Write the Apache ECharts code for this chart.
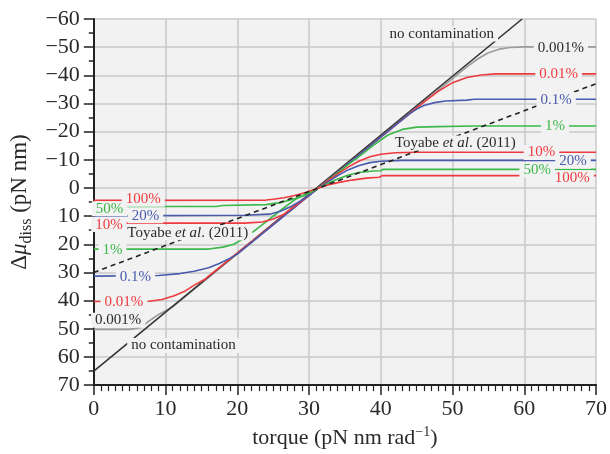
<!DOCTYPE html>
<html>
<head>
<meta charset="utf-8">
<script src="https://cdn.jsdelivr.net/npm/echarts@6/dist/echarts.min.js"></script>
<style>
  html, body { margin: 0; padding: 0; background: #fff; }
  #chart { width: 610px; height: 454px; }
</style>
</head>
<body>
<div id="chart"></div>
<script>
// curves as [torque, Δμ_diss]
const noContamination = [[0, 65], [59.7, -60]];
const toyabe2011 = [[0, 30], [70, -37]];

const pct100 = [[0, 4.4], [24, 4.3], [25, 4.0], [26.5, 3.5], [28, 2.7], [29.5, 1.6], [31.3, 0], [32.5, -1.0], [34, -1.9], [36, -2.8], [38, -3.5], [39.8, -3.8], [40.2, -4.4], [70, -4.4]];
const pct50 = [[0, 6.6], [17, 6.6], [18, 6.2], [24, 5.9], [26, 5.2], [27.5, 4.2], [29, 3.0], [30.3, 1.5], [31.3, 0], [32.5, -1.4], [34, -3.2], [35.5, -4.6], [37, -5.5], [39, -6.0], [40, -6.1], [40.3, -6.6], [70, -6.6]];
const pct20 = [[0, 9.9], [21, 9.7], [24.5, 9.3], [26, 8.3], [27.5, 6.6], [29, 4.3], [30.3, 2.1], [31.3, 0], [32.5, -1.9], [34, -4.4], [35.5, -6.5], [37, -8.0], [38.5, -9.0], [40, -9.5], [43, -9.8], [70, -9.8]];
const pct10 = [[0, 12.5], [21, 12.5], [23.5, 12.1], [25, 11.0], [26.5, 9.3], [28, 6.4], [29.5, 3.6], [31.3, 0], [32.5, -2.3], [34, -5.0], [35.5, -7.5], [37, -9.6], [38.5, -11.1], [40, -12.0], [42, -12.5], [45, -12.7], [70, -12.7]];
const pct1 = [[0, 21.7], [16, 21.7], [18, 21.0], [19.5, 20.0], [21, 17.8], [22.5, 15.0], [24, 12.0], [26, 8.0], [28, 4.2], [29.5, 2.2], [31.3, 0], [33, -3.4], [35, -7.4], [37, -11.2], [39, -15.2], [41, -18.8], [43, -20.8], [45, -21.6], [48, -21.8], [53, -22.0], [70, -22.0]];
const pct01 = [[0, 31.3], [9, 31.1], [12, 30.4], [14, 29.6], [16, 28.3], [17.5, 26.8], [19, 24.9], [20, 23.5], [31.3, 0], [43, -24.3], [44, -26.3], [45, -28.0], [46, -29.3], [47.5, -30.3], [49, -30.9], [52, -31.2], [53, -31.5], [70, -31.5]];
const pct001 = [[0, 40.3], [7.7, 40.2], [9.5, 39.6], [11.2, 38.3], [12.6, 36.8], [14, 34.5], [15.5, 32.4], [31.3, 0], [46, -30.5], [48, -34.3], [50, -37.4], [52, -39.2], [54, -40.1], [56, -40.5], [70, -40.5]];
const pct0001 = [[0, 50.2], [5, 50.2], [6.5, 49.5], [7.5, 47.6], [9, 45.0], [11, 42.2], [18, 27.6], [44, -26.4], [50, -38.8], [52, -43.0], [53.5, -45.8], [55, -48.0], [56.5, -49.3], [58, -49.9], [60, -50.1], [70, -50.1]];

// in-plot annotations: [curve, text, torque, Δμ]
const annotations = [
  ['pct100', '100%', 6.9, 4.0],
  ['pct50', '50%', 2.2, 7.4],
  ['pct20', '20%', 7.2, 9.9],
  ['pct10', '10%', 2.1, 13.0],
  ['pct1', '1%', 2.6, 21.9],
  ['pct01', '0.1%', 5.8, 31.5],
  ['pct001', '0.01%', 4.2, 40.5],
  ['pct0001', '0.001%', 3.4, 47.0],
  ['toyabe', 'Toyabe et al. (2011)', 13.1, 15.9],
  ['none', 'no contamination', 12.5, 55.9],
  ['pct0001', '0.001%', 65.1, -49.8],
  ['pct001', '0.01%', 64.8, -40.3],
  ['pct01', '0.1%', 64.45, -31.3],
  ['pct1', '1%', 64.3, -22.0],
  ['pct10', '10%', 62.4, -12.6],
  ['pct20', '20%', 66.8, -9.5],
  ['pct50', '50%', 61.8, -6.4],
  ['pct100', '100%', 66.7, -3.6],
  ['toyabe', 'Toyabe et al. (2011)', 50.4, -16.0],
  ['none', 'no contamination', 48.5, -54.7]
];

const RED = '#ee3a3e', GREEN = '#3cb84a', BLUE = '#4a5aad', GRAY = '#9c9c9c', INK = '#2a2a2a';
const FONT = 'Liberation Serif';
const textColor = { pct100: RED, pct50: GREEN, pct20: BLUE, pct10: RED, pct1: GREEN, pct01: BLUE, pct001: RED, pct0001: INK, toyabe: INK, none: INK };

const curves = [
  { data: pct0001, color: GRAY },
  { data: noContamination, color: '#333' },
  { data: pct001, color: RED },
  { data: pct01, color: BLUE },
  { data: pct1, color: GREEN },
  { data: pct10, color: RED },
  { data: pct20, color: BLUE },
  { data: pct50, color: GREEN },
  { data: pct100, color: RED }
];

const series = curves.map(c => ({
  type: 'line',
  data: c.data,
  symbol: 'none',
  silent: true,
  z: 2,
  lineStyle: { color: c.color, width: 1.6 }
}));

series.push({
  type: 'line',
  data: toyabe2011,
  symbol: 'none',
  silent: true,
  z: 2,
  lineStyle: { color: '#222', width: 1.6, type: [5, 4] }
});

series.push({
  type: 'scatter',
  symbolSize: 1,
  silent: true,
  z: 5,
  itemStyle: { color: '#f2f2f2', opacity: 1 },
  data: annotations.map(([key, text, x, y]) => ({
    value: [x, y],
    name: text,
    label: { color: textColor[key] }
  })),
  label: {
    show: true,
    position: 'inside',
    fontFamily: FONT,
    fontSize: 15,
    textBorderWidth: 0,
    backgroundColor: '#f2f2f2',
    padding: [0, 4],
    formatter: p => p.name.indexOf('Toyabe') === 0 ? '{n|Toyabe }{i|et al}{n|. (2011)}' : p.name,
    rich: {
      n: { fontFamily: FONT, fontSize: 15, color: INK, textBorderWidth: 0 },
      i: { fontFamily: FONT, fontSize: 15, color: INK, fontStyle: 'italic', textBorderWidth: 0 }
    }
  }
});

const chart = echarts.init(document.getElementById('chart'));
chart.setOption({
  animation: false,
  grid: {
    left: 93, right: 12, top: 19, bottom: 61,
    show: true, backgroundColor: '#f2f2f2', borderWidth: 0
  },
  xAxis: {
    type: 'value',
    min: 0, max: 70, interval: 10,
    name: '{d|torque (pN nm rad}{p|\u22121}{d|)}',
    nameLocation: 'middle',
    nameGap: 32,
    nameTextStyle: {
      rich: {
        d: { fontFamily: FONT, fontSize: 22, color: INK, lineHeight: 26, verticalAlign: 'middle' },
        p: { fontFamily: FONT, fontSize: 14, color: INK, lineHeight: 13, verticalAlign: 'top' }
      }
    },
    axisLine: { onZero: false, lineStyle: { color: '#222', width: 2 } },
    axisTick: { length: 10, lineStyle: { color: '#222', width: 1.5 } },
    minorTick: { show: true, splitNumber: 10, length: 6, lineStyle: { color: '#222', width: 1.2 } },
    axisLabel: { fontFamily: FONT, fontSize: 22, color: INK, margin: 13 },
    splitLine: { show: true, lineStyle: { color: '#c8c8c8', width: 1.5 } }
  },
  yAxis: {
    type: 'value',
    min: -60, max: 70, interval: 10,
    inverse: true,
    name: '{d|\u0394}{m|\u03bc}{s|diss}{d| (pN nm)}',
    nameLocation: 'middle',
    nameGap: 55,
    nameTextStyle: {
      rich: {
        d: { fontFamily: FONT, fontSize: 23, color: INK, lineHeight: 30, verticalAlign: 'middle' },
        m: { fontFamily: FONT, fontSize: 23, color: INK, lineHeight: 30, verticalAlign: 'middle', fontStyle: 'italic' },
        s: { fontFamily: FONT, fontSize: 16, color: INK, lineHeight: 15, verticalAlign: 'bottom' }
      }
    },
    axisLine: { onZero: false, lineStyle: { color: '#222', width: 2 } },
    axisTick: { length: 10, lineStyle: { color: '#222', width: 1.5 } },
    minorTick: { show: true, splitNumber: 2, length: 5, lineStyle: { color: '#222', width: 1.5 } },
    axisLabel: {
      fontFamily: FONT, fontSize: 22, color: INK, margin: 14,
      formatter: v => v < 0 ? '\u2212' + (-v) : String(v)
    },
    splitLine: { show: true, lineStyle: { color: '#c8c8c8', width: 1.5 } }
  },
  series: series
});
</script>
</body>
</html>
